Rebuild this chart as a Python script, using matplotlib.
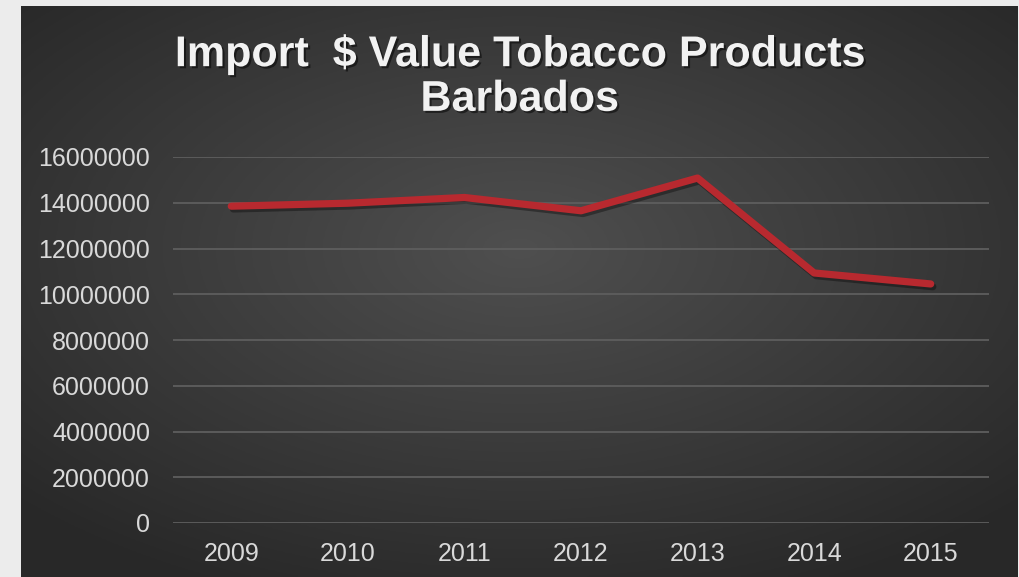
import numpy as np
import matplotlib.pyplot as plt
import matplotlib.patheffects as pe

years = ['2009', '2010', '2011', '2012', '2013', '2014', '2015']
import_value = [13850000, 13980000, 14230000, 13650000, 15080000, 10930000, 10450000]
y_ticks = [0, 2000000, 4000000, 6000000, 8000000, 10000000, 12000000, 14000000, 16000000]

title = 'Import  $ Value Tobacco Products\nBarbados'
tick_color = '#d9d9d9'
line_color = '#b8292f'

fig = plt.figure(figsize=(10.2, 5.77), dpi=100)
fig.patch.set_facecolor('#ececec')

# dark panel with radial gradient
bg = fig.add_axes([21 / 1020, 0, 997 / 1020, 571 / 577])
gx, gy = np.meshgrid(np.linspace(-1, 1, 400), np.linspace(-1, 1, 240))
r = np.sqrt((gx * 0.95) ** 2 + ((gy + 0.15) * 1.0) ** 2)
shade = 0.31 - 0.15 * np.clip(r, 0, 1.3) / 1.3
bg.imshow(np.dstack([shade, shade, shade]), aspect='auto', extent=[0, 1, 0, 1])
bg.set_axis_off()

ax = fig.add_axes([173 / 1020, 1 - 523 / 577, 816 / 1020, 366 / 577])
ax.patch.set_alpha(0)
x = np.arange(len(years))
ax.plot(x, import_value, color=line_color, lw=5.2, solid_capstyle='round', solid_joinstyle='round',
        path_effects=[pe.SimpleLineShadow(offset=(1.5, -2), alpha=0.35, shadow_color='black'), pe.Normal()],
        zorder=3)
ax.set_xlim(-0.5, len(years) - 0.5)
ax.set_ylim(0, 16000000)
ax.set_yticks(y_ticks)
ax.set_yticklabels([str(v) for v in y_ticks])
ax.set_xticks(x)
ax.set_xticklabels(years)
ax.grid(axis='y', color='#5e5e5e', lw=1.3)
ax.set_axisbelow(True)
for s in ax.spines.values():
    s.set_visible(False)
ax.tick_params(length=0, colors=tick_color, labelsize=18)
ax.tick_params(axis='y', pad=16.5)
ax.tick_params(axis='x', pad=14)
for lab in ax.get_xticklabels() + ax.get_yticklabels():
    lab.set_family('Liberation Sans')

fig.text(519.5 / 1020, 1 - 77 / 577, title, ha='center', va='center', color='#f2f2f2',
         fontsize=31, fontweight='bold', family='Liberation Sans', linespacing=1.15,
         path_effects=[pe.withSimplePatchShadow(offset=(1.5, -1.5), shadow_rgbFace='black', alpha=0.5)])

fig.savefig('out.png', dpi=100, facecolor=fig.get_facecolor())
